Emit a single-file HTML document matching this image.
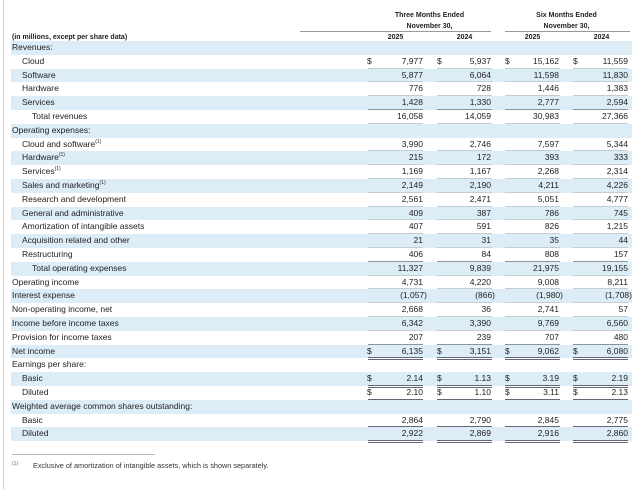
<!DOCTYPE html>
<html><head><meta charset="utf-8"><style>
body{margin:0;width:640px;height:489px;background:#fff;position:relative;overflow:hidden;font-family:"Liberation Sans",Arial,sans-serif;color:#222;font-size:8.5px}
.vl{position:absolute;left:3px;top:0;width:1px;height:489px;background:#ccc}
.r{position:absolute;left:11px;width:621px;height:13.8px;line-height:13.8px}
.s{background:#dcedf8}
.l{position:absolute;left:1px;white-space:nowrap}
.i1{left:11px}.i2{left:21px}
.d{position:absolute;width:8px}
.v{position:absolute;text-align:right;width:50px}
.u{position:absolute;height:1px;background:#c5ccd2;bottom:0}
.dd{position:absolute;height:3px;border-top:1.5px solid #667;border-bottom:1.5px solid #667;box-sizing:border-box;bottom:-2px}
sup{font-size:5px;vertical-align:4px;line-height:0}
.h{position:absolute;font-weight:bold;font-size:7px;text-align:center}
.hl{position:absolute;height:1px;background:#999}
</style></head><body>
<div class="vl"></div>
<div class="h" style="left:368px;width:123px;top:12px">Three Months Ended</div>
<div class="h" style="left:368px;width:123px;top:23px">November 30,</div>
<div class="h" style="left:505px;width:123px;top:12px">Six Months Ended</div>
<div class="h" style="left:505px;width:123px;top:23px">November 30,</div>
<div class="hl" style="left:300px;width:191px;top:31px"></div>
<div class="hl" style="left:505px;width:125px;top:31px"></div>
<div class="h" style="left:368px;width:55px;top:34px">2025</div>
<div class="h" style="left:437px;width:55px;top:34px">2024</div>
<div class="h" style="left:505px;width:55px;top:34px">2025</div>
<div class="h" style="left:573px;width:57px;top:34px">2024</div>
<div class="h" style="left:12px;top:34px;text-align:left">(in millions, except per share data)</div>
<div class="hl" style="left:12px;width:300px;top:42px;background:#777"></div>
<div class="hl" style="left:300px;width:330px;top:42px;background:#777"></div>
<div id="t"></div>
<script>
var rows=[
["Revenues:",0],
["Cloud",1,["7,977","5,937","15,162","11,559"],1],
["Software",1,["5,877","6,064","11,598","11,830"]],
["Hardware",1,["776","728","1,446","1,383"]],
["Services",1,["1,428","1,330","2,777","2,594"],0,1],
["Total revenues",2,["16,058","14,059","30,983","27,366"]],
["Operating expenses:",0],
["Cloud and software<sup>(1)</sup>",1,["3,990","2,746","7,597","5,344"]],
["Hardware<sup>(1)</sup>",1,["215","172","393","333"]],
["Services<sup>(1)</sup>",1,["1,169","1,167","2,268","2,314"]],
["Sales and marketing<sup>(1)</sup>",1,["2,149","2,190","4,211","4,226"]],
["Research and development",1,["2,561","2,471","5,051","4,777"]],
["General and administrative",1,["409","387","786","745"]],
["Amortization of intangible assets",1,["407","591","826","1,215"]],
["Acquisition related and other",1,["21","31","35","44"]],
["Restructuring",1,["406","84","808","157"],0,1],
["Total operating expenses",2,["11,327","9,839","21,975","19,155"]],
["Operating income",0,["4,731","4,220","9,008","8,211"]],
["Interest expense",0,["(1,057)","(866)","(1,980)","(1,708)"]],
["Non-operating income, net",0,["2,668","36","2,741","57"]],
["Income before income taxes",0,["6,342","3,390","9,769","6,560"]],
["Provision for income taxes",0,["207","239","707","480"],0,1],
["Net income",0,["6,135","3,151","9,062","6,080"],1,2],
["Earnings per share:",0],
["Basic",1,["2.14","1.13","3.19","2.19"],1,2],
["Diluted",1,["2.10","1.10","3.11","2.13"],1,2],
["Weighted average common shares outstanding:",0],
["Basic",1,["2,864","2,790","2,845","2,775"],0,2],
["Diluted",1,["2,922","2,869","2,916","2,860"],0,2]];
var dx=[356,426,494,562],vx=[362,430,498,567],ux=[357,426,494,562];
var h="";
rows.forEach(function(r,i){
 var top=41+i*13.8;
 h+='<div class="r'+(i%2==0?' s':'')+'" style="top:'+top+'px"><span class="l'+(r[1]==1?' i1':r[1]==2?' i2':'')+'">'+r[0]+'</span>';
 if(r[2]){for(var k=0;k<4;k++){
  if(r[3])h+='<span class="d" style="left:'+dx[k]+'px">$</span>';
  var pr=r[2][k].indexOf(")")>0;
  h+='<span class="v" style="left:'+(vx[k]+(pr?4:0))+'px">'+r[2][k]+'</span>';
  if(r[4]==1)h+='<span class="u" style="left:'+ux[k]+'px;width:55px;background:#8a949c"></span>';
  else if(r[4]==2)h+='<span class="dd" style="left:'+ux[k]+'px;width:55px"></span>';
  else h+='<span class="u" style="left:'+ux[k]+'px;width:55px"></span>';
 }}
 h+='</div>';
});
document.getElementById("t").innerHTML=h;
</script>
<div class="hl" style="left:12px;width:143px;top:454px;background:#bbb"></div>
<div style="position:absolute;left:12px;top:461px;font-size:5px;color:#666">(1)</div>
<div style="position:absolute;left:33px;top:461px;font-size:7.3px;color:#333">Exclusive of amortization of intangible assets, which is shown separately.</div>
</body></html>
